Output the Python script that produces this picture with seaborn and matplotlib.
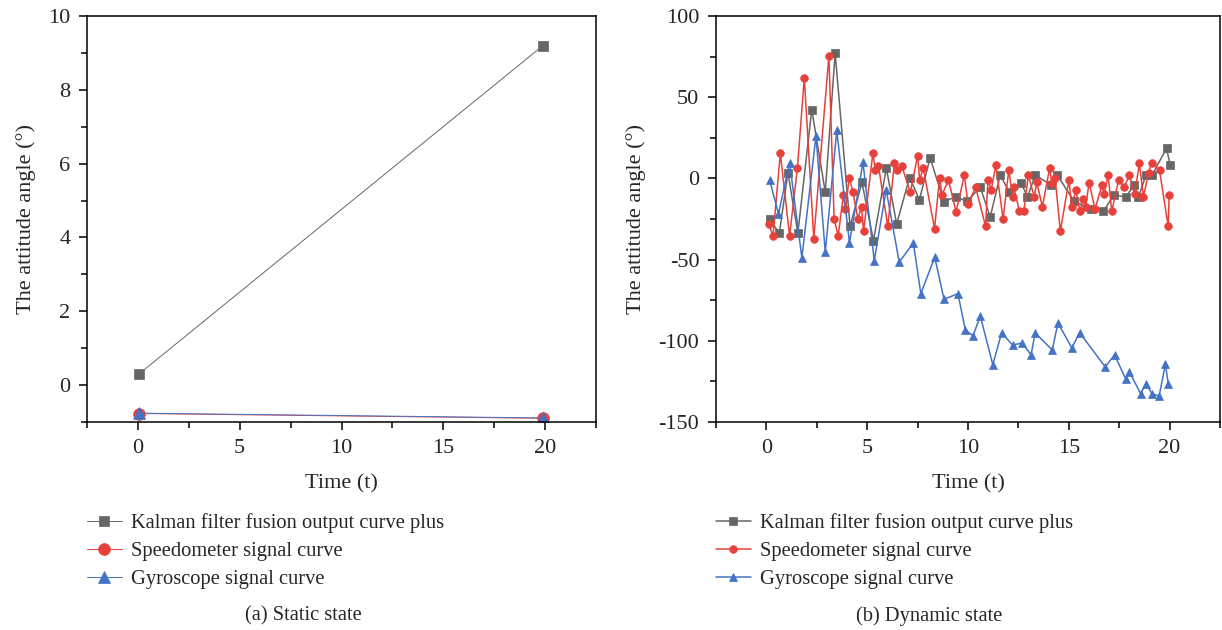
import seaborn as sns
from matplotlib import pyplot as plt
from matplotlib.ticker import MultipleLocator

labels = ['Kalman filter fusion output curve plus', 'Speedometer signal curve', 'Gyroscope signal curve']
colors = ['#666666', '#e8403a', '#4472c4']
markers = ['s', 'o', '^']

# (a) static state
static_time = [0.05, 19.9]
static_kalman = [0.3, 9.2]
static_speed = [-0.77, -0.9]
static_gyro = [-0.76, -0.89]

# (b) dynamic state
kalman_time = [0.16, 0.64, 1.07, 1.56, 2.25, 2.92, 3.41, 4.15, 4.74, 5.31, 5.95, 6.46, 7.1, 7.59,
               8.12, 8.81, 9.38, 9.95, 10.61, 11.1, 11.6, 12.05, 12.63, 12.95, 13.34, 14.12, 14.43,
               15.27, 16.1, 16.72, 17.23, 17.83, 18.23, 18.45, 18.83, 19.13, 19.85, 20.03]
kalman_angle = [-25, -33.8, 3.6, -33.8, 42.4, -8.5, 77.1, -29.5, -2.5, -38.3, 6.3, -28.1, 0.5, -13,
                12.6, -14.4, -11.3, -14.2, -5.4, -23.8, 2, -8.5, -2.6, -11.5, 2, -4, 2,
                -14.2, -18.9, -20.3, -10.1, -11.5, -4, -11.5, 2, 2.1, 18.5, 8]

speed_time = [0.11, 0.33, 0.69, 1.15, 1.54, 1.88, 2.35, 3.1, 3.36, 3.56, 3.82, 3.92, 4.11, 4.29,
              4.54, 4.72, 4.82, 5.28, 5.41, 5.56, 6.02, 6.35, 6.5, 6.71, 7.14, 7.5, 7.6, 7.78,
              8.34, 8.59, 8.71, 9.03, 9.41, 9.82, 10.0, 10.38, 10.87, 10.99, 11.15, 11.38, 11.74,
              12.02, 12.22, 12.27, 12.55, 12.77, 12.99, 13.29, 13.41, 13.69, 14.05, 14.15, 14.32,
              14.58, 15.01, 15.14, 15.35, 15.55, 15.71, 15.83, 16.01, 16.3, 16.65, 16.75, 16.95,
              17.13, 17.47, 17.75, 18.01, 18.27, 18.5, 18.7, 18.96, 19.11, 19.5, 19.93, 19.98]
speed_angle = [-27.9, -35.4, 15.4, -35.4, 6.6, 62, -37.1, 75.5, -25, -35.4, -10.1, -18.9, 0.5, -8.5,
               -24.8, -17.5, -32.5, 15.4, 4.9, 7.8, -29.5, 9.3, 4.9, 7.8, -8.5, 14, -1.1, 6.3,
               -30.9, 0.5, -10.1, -1.1, -20.5, 2, -15.8, -5.4, -29.5, -0.9, -7, 8.1, -25,
               5, -11.5, -5.4, -20.3, -20.3, 2, -11.5, -2.3, -17.5, 6.4, -2.6, 0.5,
               -32.6, -0.9, -17.6, -7, -20.3, -12.7, -17.6, -2.6, -18.9, -4, -9.9, 2.1,
               -20.3, -0.9, -5.4, 2, -9.9, 9.5, -11.5, 3.6, 9.5, 5, -29.5, -10.1]

gyro_time = [0.16, 0.6, 1.15, 1.76, 2.46, 2.92, 3.49, 4.12, 4.79, 5.35, 5.94, 6.59, 7.29, 7.66,
             8.35, 8.81, 9.5, 9.87, 10.25, 10.61, 11.23, 11.67, 12.21, 12.68, 13.13, 13.33, 14.18,
             14.46, 15.15, 15.54, 16.81, 17.27, 17.82, 18.0, 18.56, 18.84, 19.12, 19.48, 19.79, 19.94]
gyro_angle = [-1, -21.8, 9.7, -48.9, 26.2, -45.5, 29.5, -39.7, 9.9, -50.6, -7, -51.6, -39.7, -71,
              -48.5, -74.4, -71, -93.4, -96.9, -84.7, -114.7, -95.1, -102.6, -101.4, -108.6, -95.1, -105.7,
              -89, -104.3, -95.1, -116.1, -108.6, -123.5, -119, -132.5, -126.5, -132.5, -134.1, -114.5, -126.7]

sns.set_theme(style='ticks')
plt.rcParams['font.family'] = ['Liberation Serif', 'DejaVu Serif']
plt.rcParams['axes.unicode_minus'] = False


def draw_panel(ax, series, msizes, lw):
    for (t, v), label, color, marker, ms in zip(series, labels, colors, markers, msizes):
        sns.lineplot(x=t, y=v, ax=ax, color=color, marker=marker, markersize=ms, linewidth=lw,
                     mec=color, mew=0.5, label=label, estimator=None, sort=False)
    ax.set_xlim(-2.5, 22.5)
    ax.xaxis.set_major_locator(MultipleLocator(5))
    ax.xaxis.set_minor_locator(MultipleLocator(2.5))
    ax.set_xlabel('Time (t)', fontsize=16, labelpad=12)
    ax.set_ylabel('The attitude angle (°)', fontsize=16, labelpad=9)
    ax.tick_params(which='major', direction='out', length=6, width=1.1, labelsize=16, color='black', pad=6)
    ax.tick_params(which='minor', direction='out', length=4, width=1.1, color='black')
    for side in ['top', 'right', 'left', 'bottom']:
        ax.spines[side].set_visible(True)
        ax.spines[side].set_linewidth(1.1)
        ax.spines[side].set_color('black')


fig = plt.figure(figsize=(12.22, 6.3), dpi=100)
ax1 = fig.add_axes([87 / 1222, 1 - 422 / 630, (596 - 87) / 1222, (422 - 16) / 630])
ax2 = fig.add_axes([716 / 1222, 1 - 422 / 630, (1220 - 716) / 1222, (422 - 16) / 630])

draw_panel(ax1, [(static_time, static_kalman), (static_time, static_speed), (static_time, static_gyro)],
           [7.5, 8.5, 8.5], 0.7)
ax1.set_ylim(-1, 10)
ax1.yaxis.set_major_locator(MultipleLocator(2))
ax1.yaxis.set_minor_locator(MultipleLocator(1))

draw_panel(ax2, [(kalman_time, kalman_angle), (speed_time, speed_angle), (gyro_time, gyro_angle)],
           [5.5, 5.5, 5.5], 1.1)
ax2.set_ylim(-150, 100)
ax2.yaxis.set_major_locator(MultipleLocator(50))
ax2.yaxis.set_minor_locator(MultipleLocator(25))

for ax in [ax1, ax2]:
    ax.legend(loc='upper left', bbox_to_anchor=(0, -0.225), frameon=False, fontsize=14.8,
              handlelength=1.7, handletextpad=0.45, labelspacing=0.42, borderaxespad=0, borderpad=0)

fig.text(303 / 1222, 1 - 616 / 630, '(a) Static state', ha='center', va='center', fontsize=14.8)
fig.text(929 / 1222, 1 - 616 / 630, '(b) Dynamic state', ha='center', va='center', fontsize=14.8)

fig.savefig('out.png', dpi=100)
plt.close()
